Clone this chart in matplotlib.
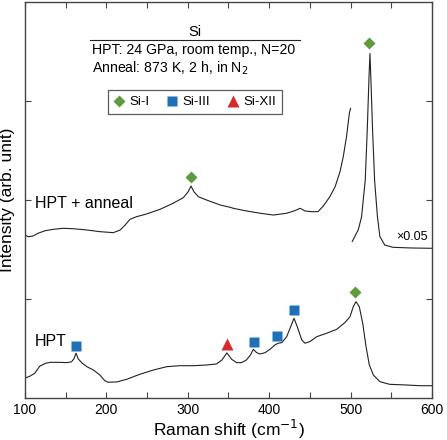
import matplotlib.pyplot as plt
from matplotlib.lines import Line2D
import numpy as np

plt.rcParams['font.family'] = ['Liberation Sans', 'DejaVu Sans']

# %% data (y in arbitrary units, stacked)

hpt_x = [100, 106, 112, 118, 125, 131, 137, 143, 151, 157, 160, 162.7, 165.5, 170, 176, 184,
         192, 198, 202, 213, 225, 241, 258, 274, 290, 307, 323, 335, 342, 348, 354, 360, 366,
         372, 377, 380.5, 384.6, 388.7, 395, 401, 407, 411, 415.4, 421.5, 426.4, 430.5, 434.5,
         440, 444, 450, 458.4, 470.6, 483, 493, 499.3, 503.3, 506.6, 510.7, 514.9, 519, 523,
         528, 536, 548, 569, 585, 600]
hpt_y = [0.20, 0.22, 0.25, 0.32, 0.35, 0.36, 0.36, 0.36, 0.357, 0.364, 0.394, 0.452, 0.394,
         0.354, 0.316, 0.283, 0.232, 0.175, 0.159, 0.162, 0.189, 0.239, 0.283, 0.316, 0.326,
         0.326, 0.333, 0.343, 0.384, 0.455, 0.39, 0.357, 0.357, 0.384, 0.434, 0.492, 0.458,
         0.444, 0.458, 0.492, 0.535, 0.553, 0.559, 0.619, 0.72, 0.805, 0.72, 0.586, 0.553,
         0.569, 0.619, 0.654, 0.694, 0.761, 0.821, 0.922, 0.973, 0.922, 0.755, 0.518, 0.334,
         0.232, 0.165, 0.138, 0.131, 0.124, 0.124]

ann_x = [100, 104, 110, 116, 125, 135, 147, 159, 176, 192, 208.5, 217, 223, 229, 237, 249.5,
         266, 282, 294.5, 300.5, 304, 307.5, 313, 323, 340, 352, 356, 372, 389, 405, 421.5,
         431.5, 438, 444, 452, 460, 466.5, 474.5, 481, 487, 491, 495, 498.5, 500]
ann_y = [1.646, 1.629, 1.636, 1.664, 1.690, 1.704, 1.714, 1.710, 1.697, 1.680, 1.670, 1.697,
         1.747, 1.805, 1.831, 1.859, 1.906, 1.967, 2.023, 2.084, 2.141, 2.084, 2.033, 2.0,
         1.949, 1.926, 1.916, 1.889, 1.866, 1.848, 1.866, 1.892, 1.916, 1.889, 1.882, 1.882,
         1.939, 2.033, 2.134, 2.286, 2.437, 2.639, 2.876, 2.926]

# Si-I main peak, drawn x0.05
peak_x = [502, 509.5, 513.5, 518, 520.5, 522.5, 523.8, 525, 527, 529.5, 533, 536, 542, 552, 575, 600]
peak_y = [1.58, 1.70, 1.83, 2.20, 2.71, 3.21, 3.48, 3.21, 2.71, 2.20, 1.83, 1.63, 1.545,
          1.522, 1.515, 1.512]

si1_x = [304.5, 523, 505.4]
si1_y = [2.235, 3.59, 1.074]
si3_x = [162.7, 381.3, 409.2, 430.5]
si3_y = [0.525, 0.562, 0.626, 0.889]
si12_x = [348.5]
si12_y = [0.545]

green = '#5f9a3c'
blue = '#1f70b8'
red = '#d62a2e'

# %% figure

fig = plt.figure(figsize=(4.47, 4.40), dpi=100)
ax = fig.add_axes([0.0559, 0.0955, 0.9105, 0.9])

lc = '#222222'
ax.plot(hpt_x, hpt_y, color=lc, lw=0.8)
ax.plot(ann_x, ann_y, color=lc, lw=0.8)
ax.plot(peak_x, peak_y, color=lc, lw=0.8)

ax.plot(si1_x, si1_y, 'D', color=green, ms=6.5, mec='none')
ax.plot(si3_x, si3_y, 's', color=blue, ms=7, mec='none')
ax.plot(si12_x, si12_y, '^', color=red, ms=8.5, mec='none')

ax.set_xlim(100, 600)
ax.set_ylim(0, 4)
ax.set_xticks(np.arange(100, 601, 100))
ax.set_xticks(np.arange(150, 600, 100), minor=True)
ax.set_yticks([1, 2, 3])
ax.set_yticklabels([])
ax.tick_params(which='both', direction='in', top=True, right=True, length=4,
               width=0.8, color='#444444', labelsize=10)
for s in ax.spines.values():
    s.set_color('#444444')
    s.set_linewidth(1.0)

ax.set_xlabel('Raman shift (cm$^{-1}$)', fontsize=12.5, labelpad=1)
ax.set_ylabel('Intensity (arb. unit)', fontsize=12.5, labelpad=4)

ax.text(0.418, 0.924, 'Si', transform=ax.transAxes, ha='center', va='center', fontsize=10.5)
ax.add_line(Line2D([0.160, 0.676], [0.903, 0.903], transform=ax.transAxes, color='#222222', lw=0.8))
ax.text(0.165, 0.879, 'HPT: 24 GPa, room temp., N=20', transform=ax.transAxes,
        ha='left', va='center', fontsize=10.2)
ax.text(0.165, 0.833, 'Anneal: 873 K, 2 h, in N$_2$', transform=ax.transAxes,
        ha='left', va='center', fontsize=10.2)
ax.text(0.025, 0.492, 'HPT + anneal', transform=ax.transAxes, ha='left', va='center', fontsize=11.5)
ax.text(0.025, 0.142, 'HPT', transform=ax.transAxes, ha='left', va='center', fontsize=11.5)
ax.text(0.99, 0.407, '×0.05', transform=ax.transAxes, ha='right', va='center', fontsize=9)

handles = [Line2D([], [], ls='none', marker='D', color=green, ms=6.5, mec='none'),
           Line2D([], [], ls='none', marker='s', color=blue, ms=6.5, mec='none'),
           Line2D([], [], ls='none', marker='^', color=red, ms=8, mec='none')]
leg = ax.legend(handles, ['Si-I', 'Si-III', 'Si-XII'], ncol=3, loc='center',
                bbox_to_anchor=(0.418, 0.747), fontsize=9.5, frameon=True, fancybox=False,
                handlelength=0.8, handletextpad=0.4, columnspacing=1.3, borderpad=0.45)
leg.get_frame().set_edgecolor('#333333')
leg.get_frame().set_linewidth(0.9)

fig.savefig('out.png', dpi=100)
